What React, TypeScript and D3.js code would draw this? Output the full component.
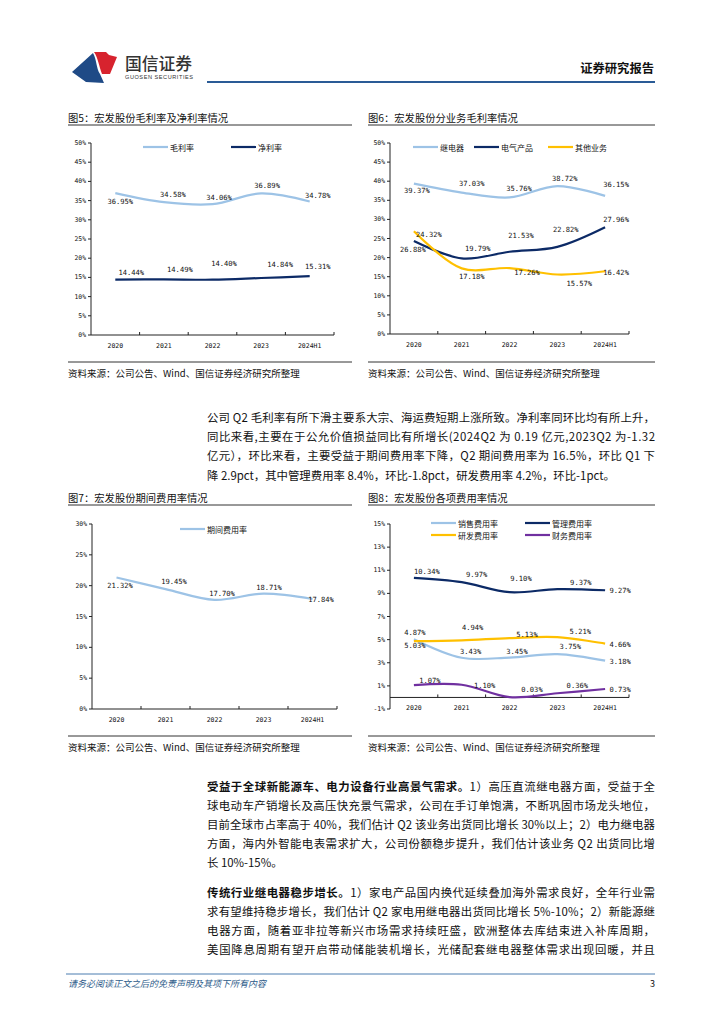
import React from 'react';
import * as d3 from 'd3';

// ---------------- data ----------------
const years = ['2020', '2021', '2022', '2023', '2024H1'];

const grossMargin = [36.95, 34.58, 34.06, 36.89, 34.78];
const netMargin = [14.44, 14.49, 14.40, 14.84, 15.31];

const relayMargin = [39.37, 37.03, 35.76, 38.72, 36.15];
const electricMargin = [24.32, 19.79, 21.53, 22.82, 27.96];
const otherMargin = [26.88, 17.18, 17.26, 15.57, 16.42];

const periodExpense = [21.32, 19.45, 17.70, 18.71, 17.84];

const salesExpense = [5.03, 3.43, 3.45, 3.75, 3.18];
const adminExpense = [10.34, 9.97, 9.10, 9.37, 9.27];
const rdExpense = [4.87, 4.94, 5.13, 5.21, 4.66];
const financeExpense = [1.07, 1.10, 0.03, 0.36, 0.73];

const ticks50 = [0, 5, 10, 15, 20, 25, 30, 35, 40, 45, 50];
const ticks30 = [0, 5, 10, 15, 20, 25, 30];
const ticksFee = [-1, 1, 3, 5, 7, 9, 11, 13, 15];

// label offsets relative to the data point (layout only)
const offGross = [[5, 8], [9, -8], [6.5, -7], [6, -8], [8, -6]];
const offNet = [[16, -7], [16, -10], [11.5, -16], [19, -14], [8, -10]];
const offRelay = [[3, 6.5], [10, -9.5], [9.5, -8.5], [7.5, -8], [11, -11]];
const offElectric = [[15, -7], [16, -10], [11.5, -16], [8.5, -17], [11, -8]];
const offOther = [[-1, 18], [10, 8.5], [17.5, 4], [22, 8.5], [11, 1]];
const offPeriod = [[3.5, 8], [8.5, -7.5], [7.5, -6], [5.5, -6.5], [8.5, 1]];
const offAdmin = [[13, -6], [15, -8], [11.5, -14], [23.5, -6.5], [15, 0.5]];
const offRd = [[1, -9], [11, -13], [17.5, -4], [23, -5.5], [15, 0.7]];
const offSales = [[1, 6.5], [9, -6], [7.5, -6], [13, -7.5], [15, 1]];
const offFinance = [[16, -5], [23, 0.3], [22.5, -8], [20, -8], [15, 1]];

const LIGHT = '#9DC3E6';
const NAVY = '#0C2A66';
const GOLD = '#FFC000';
const PURPLE = '#7030A0';

const CJK = "'Noto Sans CJK SC', 'Noto Sans', sans-serif";
const MONO = "'DejaVu Sans Mono', 'Liberation Mono', monospace";

type Series = {
  name: string;
  values: number[];
  color: string;
  offsets: number[][];
  legend: [number, number];
};

type ChartProps = {
  x0: number;
  x1: number;
  yTop: number;
  yBottom: number;
  domain: [number, number];
  ticks: number[];
  series: Series[];
};

function LineChart({ x0, x1, yTop, yBottom, domain, ticks, series }: ChartProps) {
  const x = d3.scaleBand<string>().domain(years).range([x0, x1]);
  const y = d3.scaleLinear().domain(domain).range([yBottom, yTop]);
  const cx = (i: number) => (x(years[i]) as number) + x.bandwidth() / 2;
  const base = y(Math.max(0, domain[0]));
  const line = d3
    .line<number>()
    .x((_, i) => cx(i))
    .y((d) => y(d))
    .curve(d3.curveCatmullRom.alpha(0.5));
  return (
    <g>
      {/* y axis */}
      <line x1={x0} x2={x0} y1={yTop} y2={yBottom} stroke="#222" strokeWidth={1} />
      {ticks.map((t) => (
        <g key={t}>
          <line x1={x0 - 3} x2={x0} y1={y(t)} y2={y(t)} stroke="#222" strokeWidth={1} />
          <text
            x={x0 - 5}
            y={y(t)}
            textAnchor="end"
            dominantBaseline="central"
            fontFamily={MONO}
            fontSize={6.4}
            fill="#111"
          >
            {t}%
          </text>
        </g>
      ))}
      {/* x axis */}
      <line x1={x0} x2={x1} y1={base} y2={base} stroke="#222" strokeWidth={1} />
      {years.map((c) => (
        <line
          key={'t' + c}
          x1={(x(c) as number) + x.bandwidth()}
          x2={(x(c) as number) + x.bandwidth()}
          y1={base}
          y2={base - 3}
          stroke="#222"
          strokeWidth={1}
        />
      ))}
      {years.map((c, i) => (
        <text
          key={'l' + c}
          x={cx(i)}
          y={base + 10.5}
          textAnchor="middle"
          dominantBaseline="central"
          fontFamily={MONO}
          fontSize={6.5}
          fill="#111"
        >
          {c}
        </text>
      ))}
      {/* lines */}
      {series.map((s) => (
        <path key={s.name} d={line(s.values) || ''} fill="none" stroke={s.color} strokeWidth={2.2} />
      ))}
      {/* labels */}
      {series.map((s) =>
        s.values.map((v, i) => (
          <text
            key={s.name + i}
            x={cx(i) + s.offsets[i][0]}
            y={y(v) + s.offsets[i][1]}
            textAnchor="middle"
            dominantBaseline="central"
            fontFamily={MONO}
            fontSize={7.1}
            fill="#111"
          >
            {v.toFixed(2)}%
          </text>
        ))
      )}
      {/* legend */}
      {series.map((s) => (
        <g key={'lg' + s.name}>
          <line
            x1={s.legend[0]}
            x2={s.legend[0] + 25}
            y1={s.legend[1]}
            y2={s.legend[1]}
            stroke={s.color}
            strokeWidth={2.2}
          />
          <text
            x={s.legend[0] + 27}
            y={s.legend[1]}
            dominantBaseline="central"
            fontFamily={CJK}
            fontSize={8}
            fill="#111"
          >
            {s.name}
          </text>
        </g>
      ))}
    </g>
  );
}

function ChartFrame({ x0, x1, titleY, title, lineY, sourceY }: { x0: number; x1: number; titleY: number; title: string; lineY: number; sourceY: number }) {
  return (
    <g>
      <text x={x0} y={titleY} dominantBaseline="central" fontFamily={CJK} fontSize={10.3} fill="#111">
        {title}
      </text>
      <line x1={x0} x2={x1} y1={titleY + 8} y2={titleY + 8} stroke="#333" strokeWidth={1} />
      <line x1={x0} x2={x1} y1={lineY} y2={lineY} stroke="#333" strokeWidth={1} />
      <text x={x0} y={sourceY} dominantBaseline="central" fontFamily={CJK} fontSize={9.5} fill="#111">
        资料来源：公司公告、Wind、国信证券经济研究所整理
      </text>
    </g>
  );
}

type Seg = { t: string; b?: boolean };
type Line = { segs: Seg[]; justify: boolean };

const para1: Line[] = [
  { segs: [{ t: '公司 Q2 毛利率有所下滑主要系大宗、海运费短期上涨所致。净利率同环比均有所上升，' }], justify: true },
  { segs: [{ t: '同比来看,主要在于公允价值损益同比有所增长(2024Q2 为 0.19 亿元,2023Q2 为-1.32' }], justify: true },
  { segs: [{ t: '亿元），环比来看，主要受益于期间费用率下降，Q2 期间费用率为 16.5%，环比 Q1 下' }], justify: true },
  { segs: [{ t: '降 2.9pct，其中管理费用率 8.4%，环比-1.8pct，研发费用率 4.2%，环比-1pct。' }], justify: false },
];

const para2: Line[] = [
  { segs: [{ t: '受益于全球新能源车、电力设备行业高景气需求。', b: true }, { t: '1）高压直流继电器方面，受益于全' }], justify: true },
  { segs: [{ t: '球电动车产销增长及高压快充景气需求，公司在手订单饱满，不断巩固市场龙头地位，' }], justify: true },
  { segs: [{ t: '目前全球市占率高于 40%，我们估计 Q2 该业务出货同比增长 30%以上；2）电力继电器' }], justify: true },
  { segs: [{ t: '方面，海内外智能电表需求扩大，公司份额稳步提升，我们估计该业务 Q2 出货同比增' }], justify: true },
  { segs: [{ t: '长 10%-15%。' }], justify: false },
];

const para3: Line[] = [
  { segs: [{ t: '传统行业继电器稳步增长。', b: true }, { t: '1）家电产品国内换代延续叠加海外需求良好，全年行业需' }], justify: true },
  { segs: [{ t: '求有望维持稳步增长，我们估计 Q2 家电用继电器出货同比增长 5%-10%；2）新能源继' }], justify: true },
  { segs: [{ t: '电器方面，随着亚非拉等新兴市场需求持续旺盛，欧洲整体去库结束进入补库周期，' }], justify: true },
  { segs: [{ t: '美国降息周期有望开启带动储能装机增长，光储配套继电器整体需求出现回暖，并且' }], justify: true },
];

function Paragraph({ lines, x, y0, step }: { lines: Line[]; x: number; y0: number; step: number }) {
  return (
    <g>
      {lines.map((ln, i) => (
        <text
          key={i}
          x={x}
          y={y0 + i * step}
          dominantBaseline="central"
          fontFamily={CJK}
          fontSize={11.4}
          fill="#111"
          {...(ln.justify ? { textLength: 448, lengthAdjust: 'spacing' } : {})}
        >
          {ln.segs.map((s, j) => (
            <tspan key={j} fontWeight={s.b ? 700 : 400}>
              {s.t}
            </tspan>
          ))}
        </text>
      ))}
    </g>
  );
}

export default function App() {
  return (
    <svg
      width={724}
      height={1024}
      viewBox="0 0 724 1024"
      style={{ position: 'absolute', left: 0, top: 0, background: '#fff' }}
    >
      <rect x={0} y={0} width={724} height={1024} fill="#fff" />
      {/* header */}
      <path d="M72,72 L93,53 C97,60 96,68 100,74 L104,83 L86,82 Z" fill="#1F4A86" />
      <path d="M94,52 L106,52 L109,55 L117,57 L110,74 L102,74 C99,66 98,58 94,52 Z" fill="#D7232E" />
      <text x={125} y={63} dominantBaseline="central" fontFamily={CJK} fontSize={16.8} fontWeight={500} fill="#333">
        国信证券
      </text>
      <text x={125} y={77} dominantBaseline="central" fontFamily="'Liberation Sans', sans-serif" fontSize={5.6} fill="#333" textLength={68} lengthAdjust="spacing">
        GUOSEN SECURITIES
      </text>
      <text x={654} y={68} textAnchor="end" dominantBaseline="central" fontFamily={CJK} fontSize={12.3} fontWeight={700} fill="#111">
        证券研究报告
      </text>
      <line x1={207} x2={655} y1={82} y2={82} stroke="#2A5B96" strokeWidth={2.2} />

      {/* Fig 5 */}
      <ChartFrame x0={68} x1={352} titleY={117} title="图5：宏发股份毛利率及净利率情况" lineY={362} sourceY={373} />
      <LineChart
        x0={91}
        x1={334}
        yTop={143}
        yBottom={335}
        domain={[0, 50]}
        ticks={ticks50}
        series={[
          { name: '毛利率', values: grossMargin, color: LIGHT, offsets: offGross, legend: [143, 147] },
          { name: '净利率', values: netMargin, color: NAVY, offsets: offNet, legend: [231, 147] },
        ]}
      />

      {/* Fig 6 */}
      <ChartFrame x0={368} x1={655} titleY={117} title="图6：宏发股份分业务毛利率情况" lineY={362} sourceY={373} />
      <LineChart
        x0={390}
        x1={629}
        yTop={143}
        yBottom={334}
        domain={[0, 50]}
        ticks={ticks50}
        series={[
          { name: '继电器', values: relayMargin, color: LIGHT, offsets: offRelay, legend: [413, 147] },
          { name: '电气产品', values: electricMargin, color: NAVY, offsets: offElectric, legend: [474, 147] },
          { name: '其他业务', values: otherMargin, color: GOLD, offsets: offOther, legend: [548, 147] },
        ]}
      />

      {/* paragraph 1 */}
      <Paragraph lines={para1} x={207} y0={417} step={19.2} />

      {/* Fig 7 */}
      <ChartFrame x0={68} x1={352} titleY={497} title="图7：宏发股份期间费用率情况" lineY={736} sourceY={747} />
      <LineChart
        x0={92}
        x1={337}
        yTop={524}
        yBottom={709}
        domain={[0, 30]}
        ticks={ticks30}
        series={[{ name: '期间费用率', values: periodExpense, color: LIGHT, offsets: offPeriod, legend: [180, 529] }]}
      />

      {/* Fig 8 */}
      <ChartFrame x0={368} x1={655} titleY={497} title="图8：宏发股份各项费用率情况" lineY={736} sourceY={747} />
      <LineChart
        x0={390}
        x1={629}
        yTop={524}
        yBottom={709}
        domain={[-1, 15]}
        ticks={ticksFee}
        series={[
          { name: '销售费用率', values: salesExpense, color: LIGHT, offsets: offSales, legend: [431, 523] },
          { name: '管理费用率', values: adminExpense, color: NAVY, offsets: offAdmin, legend: [525, 523] },
          { name: '研发费用率', values: rdExpense, color: GOLD, offsets: offRd, legend: [431, 535] },
          { name: '财务费用率', values: financeExpense, color: PURPLE, offsets: offFinance, legend: [525, 535] },
        ]}
      />

      {/* paragraphs 2,3 */}
      <Paragraph lines={para2} x={207} y0={786} step={19} />
      <Paragraph lines={para3} x={207} y0={892} step={19} />

      {/* footer */}
      <line x1={66} x2={655} y1={974} y2={974} stroke="#4A7DB0" strokeWidth={1} />
      <text x={68} y={983} dominantBaseline="central" fontFamily={CJK} fontSize={9} fontStyle="italic" fill="#2E5C8A">
        请务必阅读正文之后的免责声明及其项下所有内容
      </text>
      <text x={655} y={983} textAnchor="end" dominantBaseline="central" fontFamily={CJK} fontSize={9} fill="#111">
        3
      </text>
    </svg>
  );
}
